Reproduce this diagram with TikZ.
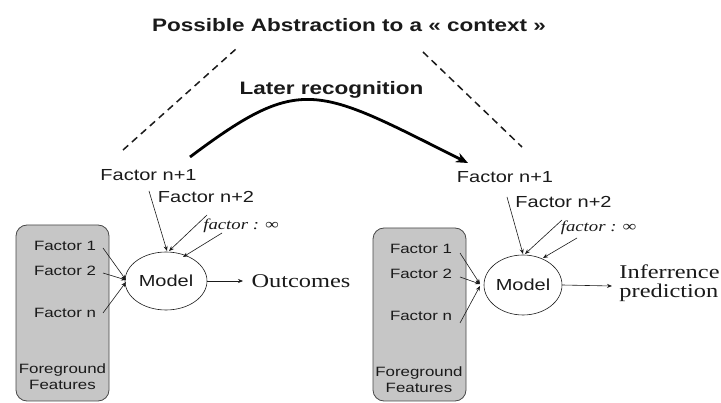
\documentclass[tikz,border=0pt]{standalone}
\usepackage{fontspec}
\usepackage{graphicx}
\setmainfont{Liberation Serif}
\setsansfont{Liberation Sans}
\usetikzlibrary{arrows.meta,shapes.geometric}
\newcommand{\sx}[1]{\scalebox{1.25}[1]{#1}}
\definecolor{ink}{HTML}{1A1A1A}
\definecolor{boxgray}{HTML}{C6C6C6}
\begin{document}
\begin{tikzpicture}[x=1pt,y=-1pt,
  every node/.style={inner sep=0pt,text=ink},
  titletxt/.style={font=\fontsize{18}{20}\selectfont\sffamily\bfseries},
  bigfac/.style={font=\fontsize{16}{18}\selectfont\sffamily},
  smallfac/.style={font=\fontsize{13.5}{15}\selectfont\sffamily},
  inftxt/.style={font=\fontsize{15}{17}\selectfont\itshape},
  outtxt/.style={font=\fontsize{19.5}{23}\selectfont},
  modelnode/.style={draw=ink,line width=0.6pt,ellipse,font=\fontsize{16}{18}\selectfont\sffamily},
  featbox/.style={draw=ink!80,fill=boxgray,line width=0.8pt,rounded corners=11pt},
  thin/.style={draw=ink,line width=0.6pt,-{Stealth[length=5pt,width=4pt]}},
  dashline/.style={draw=ink,line width=1.5pt,dash pattern=on 7pt off 5pt},
  bigarrow/.style={draw=black,line width=2.8pt,-{Stealth[length=12pt,width=10pt]}}
]
\useasboundingbox (0,0) rectangle (721,403);

% title and abstraction
\node[titletxt] (title) at (349,25) {\sx{Possible Abstraction to a « context »}};
\node[titletxt] (later) at (331.5,90) {\sx{Later recognition}};
\coordinate (dlA) at (123,150); \coordinate (dlB) at (236,49);
\coordinate (drA) at (423,52);  \coordinate (drB) at (522,147);
\draw[dashline] (dlA) -- (dlB);
\draw[dashline] (drA) -- (drB);
\coordinate (cs) at (190,157); \coordinate (ce) at (468,163);
\draw[bigarrow] (cs) .. controls (302,73) and (316,87) .. (ce);

% ---------- left panel ----------
\draw[featbox] (16,225) rectangle (109,401);
\node[smallfac] (lf1) at (65,246) {\sx{Factor 1}};
\node[smallfac] (lf2) at (65,271) {\sx{Factor 2}};
\node[smallfac] (lfn) at (65,313) {\sx{Factor n}};
\node[smallfac,align=center] (lfg) at (62.5,377) {\sx{Foreground}\\[1pt]\sx{Features}};
\node[modelnode,minimum width=82pt,minimum height=58pt] (lm) at (166,281) {\sx{Model}};
\node[bigfac] (ln1) at (148.5,175) {\sx{Factor n+1}};
\node[bigfac] (ln2) at (206,197) {\sx{Factor n+2}};
\node[inftxt] (lni) at (241,226) {\sx{factor : ∞}};
\node[outtxt] (lout) at (301,281) {\sx{Outcomes}};
\coordinate (la1) at (149,191); \coordinate (lb1) at (167,251);
\coordinate (la2) at (207,215); \coordinate (lb2) at (169,251);
\coordinate (la3) at (222,233); \coordinate (lb3) at (183,257);
\coordinate (lc1) at (103,248); \coordinate (lc2) at (103,273); \coordinate (lc3) at (103,313);
\coordinate (ld1) at (126,280); \coordinate (ld3) at (126,282);
\coordinate (lo) at (243,281);
\draw[thin] (la1) -- (lb1);
\draw[thin] (la2) -- (lb2);
\draw[thin] (la3) -- (lb3);
\draw[thin] (lc1) -- (ld1);
\draw[thin] (lc2) -- (ld1);
\draw[thin] (lc3) -- (ld3);
\draw[thin] (lm.east) -- (lo);

% ---------- right panel ----------
\draw[featbox] (373,228) rectangle (466,401);
\node[smallfac] (rf1) at (421,249) {\sx{Factor 1}};
\node[smallfac] (rf2) at (421,274) {\sx{Factor 2}};
\node[smallfac] (rfn) at (421,316) {\sx{Factor n}};
\node[smallfac,align=center] (rfg) at (419,380) {\sx{Foreground}\\[1pt]\sx{Features}};
\node[modelnode,minimum width=78pt,minimum height=60pt] (rm) at (523,285) {\sx{Model}};
\node[bigfac] (rn1) at (505,177) {\sx{Factor n+1}};
\node[bigfac] (rn2) at (563.5,202) {\sx{Factor n+2}};
\node[inftxt] (rni) at (598.5,228) {\sx{factor : ∞}};
\node[outtxt,align=left] (rout) at (669.5,283.5) {\sx{Inferrence}\\[-4pt]\sx{prediction}};
\coordinate (ra1) at (507,197); \coordinate (rb1) at (523,254);
\coordinate (ra2) at (562,220); \coordinate (rb2) at (525,254);
\coordinate (ra3) at (577,238); \coordinate (rb3) at (543,258);
\coordinate (rc1) at (460,253); \coordinate (rc2) at (460,277); \coordinate (rc3) at (460,323);
\coordinate (rd1) at (480,284); \coordinate (rd3) at (480,286);
\coordinate (ro) at (612,286);
\draw[thin] (ra1) -- (rb1);
\draw[thin] (ra2) -- (rb2);
\draw[thin] (ra3) -- (rb3);
\draw[thin] (rc1) -- (rd1);
\draw[thin] (rc2) -- (rd1);
\draw[thin] (rc3) -- (rd3);
\draw[thin] (rm.east) -- (ro);
\end{tikzpicture}
\end{document}
